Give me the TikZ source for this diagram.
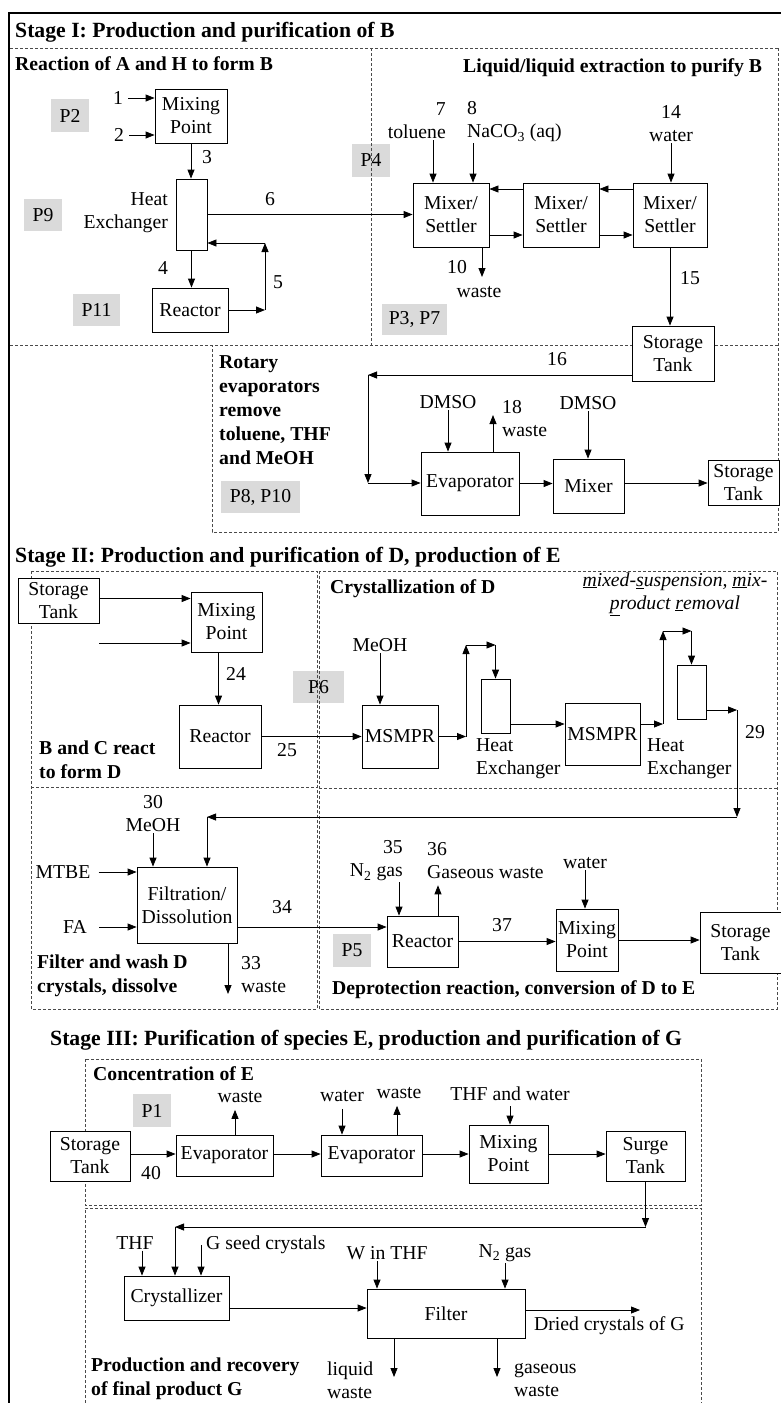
\documentclass[tikz,border=0pt]{standalone}
\usepackage{fontspec}
\setmainfont{Liberation Serif}
\usetikzlibrary{arrows.meta}
\definecolor{Pgray}{HTML}{DADADA}
\definecolor{zonegray}{HTML}{4A4A4A}
\newcommand{\normsz}{\fontsize{19.7}{23}\selectfont}
\newcommand{\subsz}{\fontsize{19.7}{24}\selectfont}
\newcommand{\headsz}{\fontsize{21.7}{25}\selectfont}
\tikzset{
  unit/.style={draw, fill=white, line width=0.8pt, inner sep=0pt, align=center, font=\normsz},
  pbox/.style={fill=Pgray, inner sep=0pt, font=\normsz},
  lbl/.style={inner sep=1pt, font=\normsz},
  head/.style={inner sep=0pt, font=\headsz\bfseries},
  sub/.style={inner sep=0pt, font=\subsz\bfseries},
  flow/.style={-{Triangle[length=9pt,width=7pt]}, line width=0.8pt},
  zone/.style={draw=zonegray, line width=0.7pt, dash pattern=on 3pt off 2pt},
}

\begin{document}
\begin{tikzpicture}[x=1pt,y=-1pt]
\useasboundingbox (0,0) rectangle (781,1403);

% grey tags
\node[pbox, minimum width=38, minimum height=33] (p2) at (70,115.5) {P2};
\node[pbox, minimum width=38, minimum height=32] (p9) at (43,215) {P9};
\node[pbox, minimum width=47, minimum height=32] (p11) at (96.5,310) {P11};
\node[pbox, minimum width=38, minimum height=33] (p4) at (371,160.5) {P4};
\node[pbox, minimum width=65, minimum height=31] (p37) at (414.5,319.5) {P3, P7};
\node[pbox, minimum width=79, minimum height=32] (p810) at (260.5,497) {P8, P10};
\node[pbox, minimum width=51, minimum height=32] (p6) at (318.5,687) {P6};
\node[pbox, minimum width=38, minimum height=33] (p5) at (352,950.5) {P5};
\node[pbox, minimum width=38, minimum height=33] (p1) at (152,1110.5) {P1};

% frame and zones
\draw[line width=2.6pt] (9,1403) -- (9,13) -- (781,13);
\draw[zone] (10,48) -- (778,48);
\draw[zone] (371,48) -- (371,345);
\draw[zone] (10,345) -- (778,345);
\draw[zone] (778,48) -- (778,532) -- (212,532) -- (212,345);
\draw[zone] (31,571) rectangle (317,1009);
\draw[zone] (31,787) -- (317,787);
\draw[zone] (319,571) rectangle (777,1009);
\draw[zone] (319,788) -- (777,788);
\draw[zone] (85,1059) rectangle (701,1205);
\draw[zone] (85,1403) -- (85,1208) -- (701,1208) -- (701,1403);

% Stage I
\node[head, anchor=base west] (st1) at (15,37) {Stage I: Production and purification of B};
\node[sub, anchor=base west] (zA) at (15,70) {Reaction of A and H to form B};
\node[sub, anchor=base west] (zB) at (463,72) {Liquid/liquid extraction to purify B};

\node[unit, minimum width=72, minimum height=54] (mixA) at (191,116) {Mixing\\Point};
\node[lbl] (s1) at (118,98) {1};
\node[lbl] (s2) at (119,135) {2};
\draw[flow, shorten <=4pt] (s1) -- (s1 -| mixA.west);
\draw[flow, shorten <=4pt] (s2) -- (s2 -| mixA.west);
\node[unit, minimum width=31, minimum height=71] (hxA) at (191.5,214.5) {};
\draw[flow] (mixA) -- (mixA |- hxA.north);
\node[lbl] (s3) at (207,157) {3};
\node[lbl, align=right, anchor=east] (hxAl) at (169,213) {Heat\\Exchanger};
\node[unit, minimum width=76, minimum height=44] (reA) at (190,310) {Reactor};
\draw[flow] (hxA) -- (hxA |- reA.north);
\node[lbl] (s4) at (163,268) {4};
\coordinate (c5a) at (265,310);
\coordinate (c5b) at (265,243);
\draw[flow] (reA) -- (c5a);
\draw[flow] (c5a) -- (c5b);
\draw[flow] (c5b) -- (c5b -| hxA.east);
\node[lbl] (s5) at (278,282) {5};

\node[unit, minimum width=76, minimum height=64] (ms1) at (451,215) {Mixer/\\Settler};
\node[unit, minimum width=76, minimum height=64] (ms2) at (561,215) {Mixer/\\Settler};
\node[unit, minimum width=74, minimum height=64] (ms3) at (670,215) {Mixer/\\Settler};
\draw[flow] (hxA.east) -- (hxA.east -| ms1.west);
\node[lbl] (s6) at (270,199) {6};
\draw[flow] ([yshift=-20pt]ms1.east) -- ([yshift=-20pt]ms2.west);
\draw[flow] ([yshift=-20pt]ms2.east) -- ([yshift=-20pt]ms3.west);
\draw[flow] ([yshift=26pt]ms3.west) -- ([yshift=26pt]ms2.east);
\draw[flow] ([yshift=26pt]ms2.west) -- ([yshift=26pt]ms1.east);
\node[lbl, align=right, anchor=east] (s7) at (447,121) {7\\toluene};
\node[lbl, align=left, anchor=west] (s8) at (466,122) {8\\NaCO\textsubscript{3} (aq)};
\node[lbl, align=center] (s14) at (671,124) {14\\water};
\draw[flow] ([xshift=-18pt]ms1.north |- s7.south) -- ([xshift=-18pt]ms1.north);
\draw[flow] ([xshift=22pt]ms1.north |- s8.south) -- ([xshift=22pt]ms1.north);
\draw[flow] (s14) -- (s14 |- ms3.north);
\coordinate (c10) at (482,277);
\draw[flow] ([xshift=31pt]ms1.south) -- (c10);
\node[lbl] (s10) at (457,267) {10};
\node[lbl] (w10) at (479,292) {waste};
\node[unit, minimum width=82, minimum height=55] (tk1) at (673,353.5) {Storage\\Tank};
\draw[flow] (ms3.south) -- (ms3.south |- tk1.north);
\node[lbl] (s15) at (690,278) {15};

% rotary evaporators
\node[sub, align=left, anchor=west] (zC) at (219,410) {Rotary\\evaporators\\remove\\toluene, THF\\and MeOH};
\node[unit, minimum width=98, minimum height=63] (ev1) at (470,483.5) {Evaporator};
\coordinate (c16a) at (368,375);
\coordinate (c16b) at (368,483);
\draw[flow] ([yshift=-21.5pt]tk1.west) -- (c16a);
\draw[flow] (c16a) -- (c16b);
\draw[flow] (c16b) -- (c16b -| ev1.west);
\node[lbl] (s16) at (557,359) {16};
\node[lbl] (dm1) at (448,402) {DMSO};
\draw[flow] (dm1) -- (dm1 |- ev1.north);
\coordinate (c18) at (493,415);
\draw[flow] ([xshift=23pt]ev1.north) -- (c18);
\node[lbl, align=left, anchor=west] (s18) at (501,419) {18\\waste};
\node[unit, minimum width=71, minimum height=54] (mx1) at (588.5,486) {Mixer};
\node[lbl] (dm2) at (588,403) {DMSO};
\draw[flow] (dm2) -- (dm2 |- mx1.north);
\draw[flow] (ev1.east) -- (ev1.east -| mx1.west);
\node[unit, minimum width=71, minimum height=45] (tk2) at (743.5,482.5) {Storage\\Tank};
\draw[flow] ([yshift=3pt]mx1.east) -- ([yshift=3pt]mx1.east -| tk2.west);

% Stage II
\node[head, anchor=base west] (st2) at (15,562) {Stage II: Production and purification of D, production of E};
\node[unit, minimum width=81, minimum height=45] (tkA) at (58.5,600.5) {Storage\\Tank};
\node[unit, minimum width=71, minimum height=60] (mxB) at (226.5,622) {Mixing\\Point};
\draw[flow] ([yshift=2pt]tkA.east) -- ([yshift=2pt]tkA.east -| mxB.west);
\coordinate (cC) at (99,643);
\draw[flow] (cC) -- (cC -| mxB.west);
\node[unit, minimum width=82, minimum height=63] (reB) at (220,736.5) {Reactor};
\draw[flow] ([xshift=-8pt]mxB.south) -- ([xshift=-8pt]mxB.south |- reB.north);
\node[lbl] (s24) at (236,674) {24};
\node[unit, minimum width=76, minimum height=63] (ms1B) at (400,736.5) {MSMPR};
\draw[flow] (reB.east) -- (reB.east -| ms1B.west);
\node[lbl] (s25) at (287,750) {25};
\node[sub, align=left, anchor=west] (zD) at (39,760) {B and C react\\to form D};
\node[sub, anchor=base west] (zE) at (330,593) {Crystallization of D};
\node[lbl, align=center, font=\normsz\itshape] (note) at (675,594)
  {\underline{m}ixed-\underline{s}uspension, \underline{m}ix-\\\underline{p}roduct \underline{r}emoval};
\node[lbl] (me1) at (380,645) {MeOH};
\draw[flow] (me1) -- (me1 |- ms1B.north);
\node[unit, minimum width=29, minimum height=54] (hxB) at (495.5,706) {};
\coordinate (m1a) at (466,736.5);
\coordinate (m1b) at (466,645);
\coordinate (m1c) at (495.5,645);
\draw[flow] (ms1B.east) -- (m1a);
\draw[flow] (m1a) -- (m1b);
\draw[flow] (m1b) -- (m1c);
\draw[flow] (m1c) -- (hxB.north);
\node[lbl, align=left, anchor=west] (hxBl) at (475,759) {Heat\\Exchanger};
\node[unit, minimum width=75, minimum height=62] (ms2B) at (602.5,734) {MSMPR};
\draw[flow] ([yshift=-18pt]hxB.east) -- ([yshift=-18pt]hxB.east -| ms2B.west);
\node[unit, minimum width=29, minimum height=54] (hxC) at (691.5,692) {};
\coordinate (m2a) at (663,724);
\coordinate (m2b) at (663,631);
\coordinate (m2c) at (691.5,631);
\draw[flow] ([yshift=10pt]ms2B.east) -- (m2a);
\draw[flow] (m2a) -- (m2b);
\draw[flow] (m2b) -- (m2c);
\draw[flow] (m2c) -- (hxC.north);
\node[lbl, align=left, anchor=west] (hxCl) at (646,759) {Heat\\Exchanger};
\node[unit, minimum width=100, minimum height=76] (fil) at (187,905) {Filtration/\\Dissolution};
\coordinate (m3a) at (737,710);
\coordinate (m3b) at (737,817);
\coordinate (m3c) at (207,817);
\draw[flow] ([yshift=-18pt]hxC.east) -- (m3a);
\draw[flow] (m3a) -- (m3b);
\draw[flow] (m3b) -- (m3c);
\draw[flow] (m3c) -- (m3c |- fil.north);
\node[lbl] (s29) at (755,732) {29};

\node[lbl, align=center] (me30) at (153,814) {30\\MeOH};
\draw[flow] (me30) -- (me30 |- fil.north);
\node[lbl] (mtbe) at (63,872) {MTBE};
\draw[flow, shorten <=7pt] (mtbe) -- (mtbe -| fil.west);
\node[lbl] (fa) at (75,927) {FA};
\draw[flow, shorten <=11pt] (fa) -- (fa -| fil.west);
\node[unit, minimum width=71, minimum height=51] (reC) at (422.5,941.5) {Reactor};
\draw[flow] ([yshift=-22pt]fil.east) -- ([yshift=-22pt]fil.east -| reC.west);
\node[lbl] (s34) at (282,907) {34};
\coordinate (c33) at (228,994);
\draw[flow] ([xshift=41pt]fil.south) -- (c33);
\node[lbl, align=left, anchor=west] (s33) at (240,975) {33\\waste};
\node[sub, align=left, anchor=west] (zF) at (37,976) {Filter and wash D\\crystals, dissolve};

\node[lbl, align=right, anchor=east] (s35) at (404,861) {35\\N\textsubscript{2} gas};
\draw[flow] ([xshift=-23.5pt]reC.north |- s35.south) -- ([xshift=-23.5pt]reC.north);
\node[lbl, align=left, anchor=west] (s36) at (426,861) {36\\Gaseous waste};
\draw[flow, shorten >=5pt] ([xshift=15.5pt]reC.north) -- ([xshift=15.5pt]reC.north |- s36.south);
\node[unit, minimum width=62, minimum height=62] (mxC) at (587,940) {Mixing\\Point};
\draw[flow] (reC.east) -- (reC.east -| mxC.west);
\node[lbl] (s37) at (502,925) {37};
\node[lbl] (wa) at (585,863) {water};
\draw[flow] (wa) -- (wa |- mxC.north);
\node[unit, minimum width=81, minimum height=61] (tkC) at (740.5,942.5) {Storage\\Tank};
\draw[flow] (mxC.east) -- (mxC.east -| tkC.west);
\node[sub, anchor=base west] (zG) at (332,994) {Deprotection reaction, conversion of D to E};

% Stage III
\node[head, anchor=base west] (st3) at (50,1045) {Stage III: Purification of species E, production and purification of G};
\node[sub, anchor=base west] (zH) at (93,1080) {Concentration of E};
\node[unit, minimum width=80, minimum height=50] (tkD) at (90,1156) {Storage\\Tank};
\node[unit, minimum width=97, minimum height=41] (evD1) at (224.5,1155.5) {Evaporator};
\draw[flow] ([yshift=2pt]tkD.east) -- ([yshift=2pt]tkD.east -| evD1.west);
\node[lbl] (s40) at (151,1173) {40};
\node[lbl] (wD1) at (240,1097) {waste};
\draw[flow, shorten >=6pt] ([xshift=10.5pt]evD1.north) -- ([xshift=10.5pt]evD1.north |- wD1.south);
\node[unit, minimum width=101, minimum height=41] (evD2) at (371.5,1155.5) {Evaporator};
\draw[flow] ([yshift=1.5pt]evD1.east) -- ([yshift=1.5pt]evD1.east -| evD2.west);
\node[lbl] (waD) at (342,1096) {water};
\draw[flow, shorten <=6pt] (waD) -- (waD |- evD2.north);
\node[lbl] (wD2) at (399,1093) {waste};
\draw[flow, shorten >=6pt] ([xshift=25.5pt]evD2.north) -- ([xshift=25.5pt]evD2.north |- wD2.south);
\node[unit, minimum width=79, minimum height=58] (mxD) at (508.5,1154) {Mixing\\Point};
\draw[flow] ([yshift=1.5pt]evD2.east) -- ([yshift=1.5pt]evD2.east -| mxD.west);
\node[lbl] (thw) at (510,1094) {THF and water};
\draw[flow, shorten <=4pt] (thw) -- (thw |- mxD.north);
\node[unit, minimum width=79, minimum height=50] (sg) at (645.5,1156) {Surge\\Tank};
\draw[flow] (mxD.east) -- (mxD.east -| sg.west);

\coordinate (g1) at (645.5,1227);
\coordinate (g2) at (175,1227);
\node[unit, minimum width=105, minimum height=44] (cry) at (176.5,1298) {Crystallizer};
\draw[flow] (sg.south) -- (g1);
\draw[flow] (g1) -- (g2);
\draw[flow] (g2) -- (g2 |- cry.north);
\node[lbl] (thf) at (135,1243) {THF};
\draw[flow] ([xshift=7pt]thf.south) -- ([xshift=7pt]thf.south |- cry.north);
\node[lbl, anchor=west] (seed) at (205,1245) {G seed crystals};
\draw[flow] ([xshift=-4pt]seed.west) -- ([xshift=-4pt]seed.west |- cry.north);
\node[unit, minimum width=158, minimum height=49] (flt) at (446,1313.5) {Filter};
\draw[flow] ([yshift=-10pt]cry.east) -- ([yshift=-10pt]cry.east -| flt.west);
\node[lbl] (win) at (387,1253) {W in THF};
\draw[flow] ([xshift=-10pt]win.south) -- ([xshift=-10pt]win.south |- flt.north);
\node[lbl] (n2g) at (505,1253) {N\textsubscript{2} gas};
\draw[flow] (n2g) -- (n2g |- flt.north);
\coordinate (cdry) at (640,1310);
\draw[flow] ([yshift=3.5pt]flt.east) -- (cdry);
\node[lbl, anchor=west] (dry) at (533,1326) {Dried crystals of G};
\coordinate (clw) at (394,1377);
\coordinate (cgw) at (497,1377);
\draw[flow] (flt.south -| clw) -- (clw);
\draw[flow] (flt.south -| cgw) -- (cgw);
\node[lbl, align=left, anchor=west] (lw) at (326,1380) {liquid\\waste};
\node[lbl, align=left, anchor=west] (gw) at (513,1380) {gaseous\\waste};
\node[sub, align=left, anchor=west] (zI) at (91,1379) {Production and recovery\\of final product G};
\end{tikzpicture}
\end{document}
